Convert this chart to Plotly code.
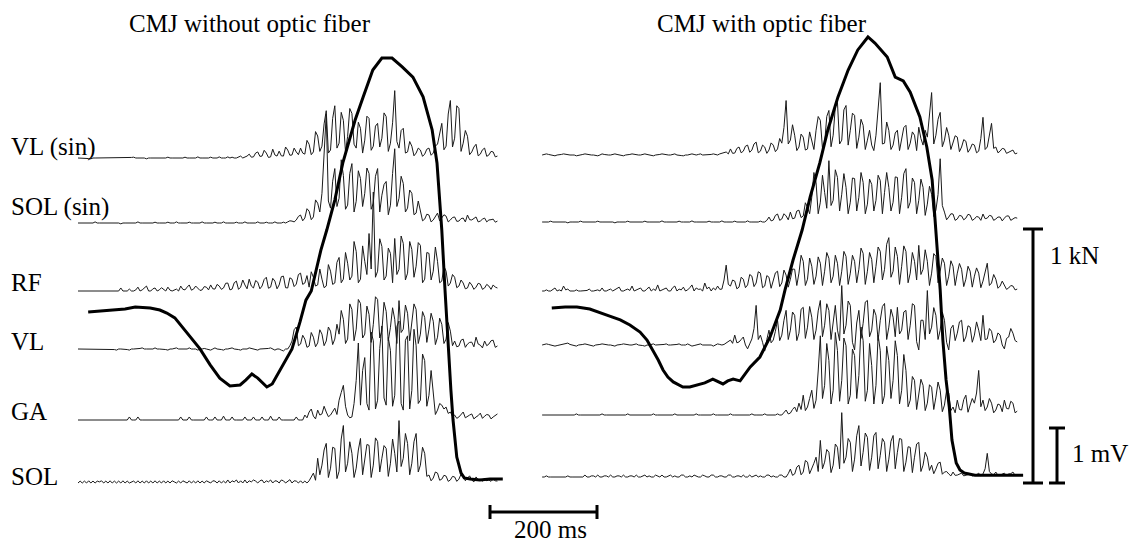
import plotly.graph_objects as go

# ---------------- calibration (from the scale bars of the figure) ----------------
W, H = 1131, 543
PX_PER_MS = 107 / 200.0     # 200 ms scale bar
PX_PER_MV = 55.0            # 1 mV scale bar
PX_PER_KN = 254.0           # 1 kN scale bar
DT_MS = 4                   # EMG sample interval

# ---------------- data ----------------
channels = ["VL (sin)", "SOL (sin)", "RF", "VL", "GA", "SOL"]

# Force (kN) - CMJ without optic fiber
left_force_t = [19, 41, 69, 88, 107, 135, 153, 166, 181, 200, 219, 228, 247, 265, 284, 303, 314, 325, 336, 346,
                353, 363, 378, 389, 400, 415, 426, 436, 454, 465, 480, 495, 508, 518, 533, 551, 568, 587, 606, 626,
                645, 662, 671, 680, 686, 692, 697, 701, 708, 716, 722, 733, 751, 770, 794]
left_force_kn = [0.673, 0.677, 0.681, 0.685, 0.693, 0.689, 0.681, 0.669, 0.650, 0.602, 0.551, 0.528, 0.465, 0.413,
                 0.382, 0.386, 0.406, 0.429, 0.413, 0.390, 0.378, 0.390, 0.445, 0.484, 0.528, 0.634, 0.720, 0.756,
                 0.917, 0.996, 1.114, 1.260, 1.358, 1.429, 1.520, 1.626, 1.673, 1.673, 1.638, 1.598, 1.520, 1.390,
                 1.260, 0.996, 0.760, 0.528, 0.366, 0.248, 0.102, 0.039, 0.020, 0.016, 0.012, 0.016, 0.016]

# Force (kN) - CMJ with optic fiber
right_force_t = [22, 47, 69, 93, 125, 150, 168, 187, 200, 211, 221, 230, 239, 249, 267, 280, 294, 308, 323, 333,
                 342, 351, 361, 374, 383, 393, 411, 430, 449, 458, 473, 490, 505, 523, 538, 557, 576, 594, 613, 626,
                 649, 664, 679, 692, 710, 723, 733, 740, 748, 753, 759, 765, 770, 778, 785, 793, 813, 860, 903]
right_force_kn = [0.689, 0.693, 0.693, 0.685, 0.661, 0.642, 0.622, 0.594, 0.563, 0.524, 0.484, 0.445, 0.417, 0.398,
                  0.378, 0.378, 0.386, 0.394, 0.409, 0.398, 0.390, 0.402, 0.409, 0.402, 0.429, 0.457, 0.496, 0.575,
                  0.681, 0.760, 0.878, 0.996, 1.126, 1.260, 1.390, 1.520, 1.626, 1.705, 1.756, 1.732, 1.677, 1.598,
                  1.583, 1.539, 1.441, 1.323, 1.193, 0.996, 0.760, 0.563, 0.406, 0.299, 0.169, 0.079, 0.051, 0.039,
                  0.031, 0.031, 0.031]

# EMG (microvolts), CMJ without optic fiber, every DT_MS from 0 ms
left_vl_sin = [0, 0, 0, 0, 0, -10, -15, 0, 0, 0, 0, 0, 0, 0, 0, 0, 0, 0, 0, 0,
               0, 0, 0, 0, 0, 10, 15, 0, 0, 0, 0, 0, -15, 0, 0, 0, 0, 0, 0, 0,
               0, 0, 15, 0, 0, 0, 0, 0, 0, 0, 15, 0, 0, 0, 0, 0, 20, 0, 0, 0,
               0, 0, 15, 0, 0, 0, 20, 0, 0, 0, 20, 0, 15, 0, 0, 15, 35, 0, 15, 35,
               70, 15, 20, 90, 110, 30, 35, 140, 90, 10, 20, 160, 55, 35, 125, 40, 35, 200, 145, 50,
               55, 180, 110, 60, 180, 90,
               70, 320, 250, 60, 110, 480, 400, 120, 215, 620,
               860, 90, 145, 720, 950, 180, 270, 830, 685, 110, 395, 900, 810, 250, 180, 650, 540, 90,
               325, 760, 720, 140, 215, 580, 630, 200, 360, 820, 755, 120, 270, 640, 1225, 300, 180, 500,
               540, 90, 110, 300, 215, 40, 90, 180, 145, 30, 70, 160, 180, 50, 90, 220, 250, 420,
               630, 150, 215, 800, 1045, 200, 360, 950, 900, 120, 270, 500,
               395, 60, 110, 200, 250, 40, 70, 150, 180, 30, 55, 120, 110, 20, 35]
left_sol_sin = [0, 0, 0, 0, 0, 0, 0, 0, 20, 0, 0, 0, 0, 0, 0, 0, 0, 0, 0, 0,
                -15, 0, 0, 0, 0, 0, 0, 0, 20, 0, 0, 0, 0, 0, 0, 0, 15, 0, 0, 0,
                0, 0, 15, 0, 0, 0, 20, 0, 0, 0, 0, 0, 15, 0, 0, 0, 0, 0, 20, 0,
                0, 0, 0, 0, 15, 0, 0, 0, 20, 0, 0, 0, 0, 0, 15, 0, 0, 0, 20, 0,
                0, 0, 0, 0, 20, 0, 0, 0, 15, 0, 0, 0, 20, 0, 0, 0, 15, 0, 20, 40,
                35, 20,
                55, 120, 145, 40, 90, 260, 215, 60, 110, 420, 360, 200,
                540, 1200, 1980, 400, 270, 760, 990, 300, 450, 1150, 865, 250, 325, 900, 1080, 200, 395, 950,
                810, 300, 540, 1000, 900, 250, 360, 850, 990, 200, 505, 700, 755, 150, 325, 900, 1350, 300,
                450, 850, 720, 200, 270, 600, 540, 150, 180, 400,
                215, 40, 70, 160, 145, 20, 55, 110, 180, 40, 90, 150, 125, 20, 55, 100, 110, 30, 35, 80,
                90, 20, 145, 60, 55, 90, 110, 20, 35, 70, 90, 20, 55, 60, 70, 15, 35]
left_rf = [0, 0, 0, 0, 0, 0, 0, 0, 0, 0, 0, 0, 0, 0, 0, 0, 0, 0, 0, 0,
           55, 0, 0, 0, 35, 0, 0, 20, 70, 0, 20, 50, 90, 0, 0, 40, 55, 0, 20, 60,
           35, 0, 70, 15, 0, 20, 35, 0, 90, 30, 20, 70, 110, 15, 35, 90, 55, 10, 20, 80,
           70, 20, 110, 40, 35, 120, 90, 30, 55, 140,
           145, 20, 35, 150, 180, 30, 70, 200, 110, 40, 215, 90, 55, 190, 160, 40, 90, 210, 250, 50,
           70, 230, 180, 40, 110, 260, 270, 60, 55, 240, 215, 80, 125, 300, 325, 120,
           145, 280, 70, 350, 250, 90, 110, 400, 215, 60, 90, 480, 360, 120, 145, 520, 610, 150, 215, 700,
           505, 200,
           270, 900, 720, 150, 215, 820, 540, 300, 1045, 400, 1800, 250, 360, 950, 810, 200, 270, 780,
           685, 150, 955, 300, 395, 1000, 865, 200, 325, 900, 755, 250, 450, 880, 830, 150, 215, 700,
           685, 200, 360, 800, 540, 150,
           180, 450, 360, 90, 145, 300, 250, 60, 90, 200, 145, 40, 55, 160, 110, 30, 70, 140, 125, 30,
           55, 120, 90, 30, 110, 70, 55]
left_vl = [0, 0, 0, 0, 0, 0, 0, 0, 0, 0, 0, 0, 0, 0, 0, 0, 0, -10, -20, 0,
           0, 0, 0, -10, -20, 0, 0, 0, 0, 10, 20, 0, 0, 0, 0, 0, 20, 0, 0, 0,
           0, -10, -20, 0, 0, 10, 20, 0, 0, 0, 0, 0, 20, 0, 0, 0, -20, 0, 0, 10,
           0, -10, -20, 0, 20, 0, 0, -10, -20, 0, 0, 10, 20, 0, 0, -10, -20, 0, 0, 0,
           20, 10, 0, -10, -20, 0, 0, 0, 0, 10, 20, 0, -20, 0, 0, -20, -35, 0, 0, 60,
           145, 350, 400, 60, 90, 250, 180, 30, 55, 300, 215, 40, 110, 350, 270, 60, 145, 400, 325, 80,
           180, 450,
           270, 700, 540, 100, 180, 820, 720, 150, 360, 900, 830, 200, 270, 780, 630, 120, 450, 950,
           900, 200, 325, 850, 685, 150, 395, 750, 540, 100, 880, 300, 360, 800, 650, 150, 450, 820,
           720, 100, 270, 680, 575, 120, 360, 650, 505, 80, 215, 560, 450, 100, 180, 480, 325, 60,
           145, 40, 55, 160, 180, 30, 90, 120, 125, 40, 215, 90, 70, 20, 145, 60, 90, 150, 160, 30, 55]
left_ga = [0, 0, 0, 0, 0, 0, 0, 0, 0, 0, 0, 0, 0, 0, 0, 0, 0, 0, 0, 0,
           0, 0, 0, 0, 55, 0, 0, 0, 55, 0, 0, 0, 0, 0, 0, 0, 0, 0, 0, 0,
           0, 0, 0, 0, 0, 0, 0, 0, 55, 0, 0, 0, 55, 0, 0, 0, 0, 0, 0, 0,
           55, 0, 0, 0, 55, 0, 0, 0, 70, 0, 0, 0, 55, 0, 0, 0, 0, 0, 55, 0,
           0, 0, 55, 0, 0, 0, 55, 0, 0, 0, 70, 0, 0, 0, 55, 0, 0, 0, 0, 0,
           0, 0, 55, 0, 0, 0,
           90, 40, 145, 200, 70, 20, 180, 90, 110, 250, 145, 60, 90, 160, 215, 100, 360, 500,
           630, 250, 90, 40, 55, 300,
           720, 1400, 270, 900, 1135, 300, 180, 1600, 1440, 200, 360, 1300, 1710, 400, 270, 1500, 1260, 250,
           450, 1700, 1800, 300, 180, 1450, 1530, 200, 540, 1650, 1350, 300, 360, 1200, 1080, 250, 450, 900,
           450, 100, 180, 300, 270, 200, 235, 120, 145, 70,
           90, 30, 55, 110, 145, 40, 70, 90, 110, 20, 55, 80, 125, 30, 70, 100, 90, 20, 55, 80, 110]
left_sol = [0, 35, 0, 35, 0, 40, 0, 35, 0, 35, 20, 40, 0, 35, 0, 40, 0, 35, 0, 35,
            0, 40, 0, 35, 0, 20, 35, 0, 40, 0, 35, 0, 40, 0, 35, 0, 40, 0, 35, 0,
            40, 0, 35, 0, 40, 20, 0, 35, 0, 40, 20, 0, 40, 0, 35, 0, 40, 0, 35, 0,
            40, 20, 0, 40, 35, 0, 40, 0, 35, 0, 55, 0, 40, 20, 55, 0, 40, 0, 55, 0,
            40, 20, 55, 35, 0, 40, 55, 0, 40, 20, 55, 0, 40, 35, 0, 55, 40, 0, 35, 60,
            0, 40, 35, 0, 40, 0, 35, 0, 40, 100,
            180, 50, 450, 150, 325, 600, 720, 100, 270, 650, 630, 80, 215, 800, 1045, 200, 360, 750,
            540, 100, 270, 600, 810, 150, 395, 700, 685, 100, 325, 820, 755, 200, 450, 680, 630, 120,
            360, 800, 540, 200, 1135, 300, 450, 900, 720, 150, 360, 750, 900, 200, 325, 650, 540, 120,
            145, 40, 90, 200, 180, 50, 70, 140, 125, 30, 55, 120, 110, 30, 70, 160, 145, 40, 90, 130,
            55, 20, 110, 60, 70, 30, 90, 40, 55, 30, 70, 40, 35]

# EMG (microvolts), CMJ with optic fiber, every DT_MS from 4 ms
right_vl_sin = [0, 10, 20, 10, 0, -10, -15, 0, 0, 10, 20, 10, 0, 0, 0, 0, -15, -10, 0, 10,
                20, 10, 0, 0, 0, -10, -15, 0, 20, 10, 0, 0, 0, 10, 20, 10, 0, -10, -15, 0,
                0, 10, 20, 10, 0, 0, 0, 10, 20, 10, 0, -10, -15, 0, 0, 10, 20, 10, 0, 0,
                0, 10, 20, 0, 0, -10, -15, 0, 0, 10, 20, 10, 0, 10, 20, 0, 0, 0, 0, 10,
                20, 10, 0, 20, 35, 50,
                55, 20, 110, 30, 35, 120, 145, 40, 70, 160, 180, 50, 90, 200,
                235, 40, 70, 180, 145, 30, 90, 220, 180, 60, 110, 300, 215, 500, 990, 200, 270, 550, 360, 80,
                145, 380, 325, 90, 110, 420, 270, 100, 450, 700,
                630, 120, 215, 700, 810, 150, 360, 880, 955, 200, 270, 820, 900, 180, 450, 760, 720, 120,
                325, 650, 540, 100,
                270, 450, 180, 80, 360, 900, 1315, 200, 215, 600, 450, 100,
                180, 400, 450, 80, 270, 500, 540, 100, 215, 420, 360, 80, 505, 300, 180, 450, 325, 700,
                1135, 200, 360, 650, 775, 150, 270, 500,
                360, 100, 215, 350, 325, 60, 145, 280, 250, 50, 110, 200,
                180, 40, 70, 300, 685, 100, 145, 400, 575, 120,
                145, 40, 70, 120, 110, 30, 55, 80, 90, 20, 35]
right_sol_sin = [0, 0, 0, 0, 15, 0, 0, 0, 0, 0, 0, 0, -15, 0, 0, 0, 0, 0, 15, 0,
                 0, 0, 0, 0, 0, 0, 15, 0, 0, 0, 0, 0, 0, 0, -15, 0, 0, 0, 0, 0,
                 15, 0, 0, 0, 0, 0, 0, 0, 15, 0, 0, 0, 0, 0, 0, 0, 20, 0, 0, 0,
                 0, 0, 0, 0, 15, 0, 0, 0, 0, 0, 20, 0, 0, 0, 0, 0, 0, 0, 15, 0,
                 0, 0, 0, 0, 20, 0, 0, 0, 0, 0, 15, 0, 0, 0, 0, 0, 20, 0, 0, 0,
                 0, 0, 15, 0, 0, 30,
                 90, 20, 35, 120, 145, 30, 55, 150, 110, 40, 180, 60, 70, 200,
                 215, 80, 110, 350, 270, 150,
                 450, 900, 720, 150, 360, 850, 540, 250, 1115, 300, 395, 950, 810, 200, 505, 880, 630, 150,
                 360, 800, 790, 200, 450, 900, 720, 150, 325, 780, 685, 200, 395, 850, 755, 150, 540, 900,
                 630, 200, 360, 820, 810, 150, 450, 880, 970, 250, 360, 800, 720, 150, 395, 780, 630, 120,
                 325, 650, 505, 100, 215, 500, 1150, 300,
                 180, 40, 90, 150, 145, 30, 55, 120, 110, 40, 70, 140, 125, 30, 55, 100, 90, 30, 145, 60,
                 70, 120, 110, 30, 55, 90, 90, 20, 70, 110, 110, 30, 55, 80, 70]
right_rf = [0, 0, 20, 0, 0, 20, 55, 0, 20, 0, 90, 20, 35, 0, 0, 0, 20, 0, 0, 0,
            0, 10, 35, 0, 0, 10, 20, 0, 55, 0, 0, 20, 35, 0, 20, 40, 70, 0, 0, 20,
            35, 10, 90, 0, 20, 30, 55, 0, 0, 40, 70, 0, 35, 10, 110, 0, 20, 30, 55, 0,
            0, 60, 90, 0, 35, 20, 70, 0, 20, 60, 110, 0, 55, 30, 35, 0, 145, 40, 70, 0,
            55, 20, 90, 30, 35, 200,
            470, 120,
            90, 200, 180, 40, 70, 250, 215, 60, 110, 300, 270, 80, 145, 350, 325, 60, 90, 280, 250, 50,
            180, 330, 360, 80, 145, 380, 290, 70, 215, 400, 395, 100,
            325, 650, 540, 100, 215, 600, 450, 120, 270, 620, 505, 100, 360, 700, 595, 150, 270, 650, 505, 100,
            360, 720, 630, 120, 325, 650, 540, 150, 395, 780, 685, 120, 360, 700, 575, 150, 450, 800, 720, 200,
            395, 850, 970, 250, 360, 800, 630, 120, 450, 820, 720, 150, 325, 700, 540, 200, 830, 300, 395, 750,
            540, 100, 325, 680, 630, 150, 360, 600, 505, 100, 270, 550, 450, 100, 325, 500, 395, 80, 215, 450,
            360, 70, 270, 420, 325, 60, 180, 350, 505, 100, 145, 300, 215, 50, 90, 180, 110, 30, 55, 100,
            90, 20, 35]
right_vl = [0, 10, 20, 10, 0, -10, -20, -10, 0, 10, 20, 20, 35, 10, 0, -10, -20, 0, 0, 10,
            20, 10, 0, -10, -20, 0, 0, 10, 20, 10, 0, 0, 0, -10, -20, 0, 0, 10, 20, 10,
            0, 0, 0, 10, 20, 0, 0, -10, -20, 0, 0, 10, 20, 0, 0, 0, 0, 10, 20, 0,
            0, 0, 0, 10, 20, 0, 0, 0, 20, 0, -20, -10, 0, 10, 20, 0, 0, 0, 0, 0,
            -20, 0, 20, 10, 0, 10, 35, 60,
            90, 30, 180, 40, 55, 100, 145, 0, -70, 20, 110, 300,
            720, 100, 180, 50, -110, 100, 270, 40, 90, 250, 450, 80,
            180, 450, 630, 100, 270, 600, 540, 80, 215, 650, 685, 120, 325, 700, 505, 100, 270, 620, 810, 150,
            360, 750, 630, 100, 450, 720, 270, 80, 1080, 200, 360, 800, 720, 50, -90, 400, 630, 120, 395, 780,
            810, 150, 270, 650, 540, 80, 450, 700, 755, 100, 325, 650, 505, 150, 685, 200, 270, 600, 630, 100,
            360, 750, 720, 60, -90, 450, 450, 100, 990, 200, 325, 680, 540, 100, 270, 600, 450, 50, -90, 300,
            360, 80, 215, 420, 450, 60, 145, 350, 325, 50, 180, 420, 270, 80, 540, 100, 110, 300, 250, 40,
            90, 220, 180, 0, -70, 120, 145, 300, 215, 80, 55]
right_ga = [0, 0, 0, 0, 0, 0, 0, 0, 0, 0, 0, 0, 0, 0, 0, 0, 20, 0, 0, 0,
            0, 0, 0, 0, 0, 0, 0, 0, 20, 0, 0, 0, 0, 0, 0, 0, 0, 0, 0, 0,
            20, 0, 0, 0, 0, 0, 0, 0, 0, 0, 0, 0, 20, 0, 0, 0, 0, 0, 0, 0,
            0, 0, 20, 0, 0, 0, 0, 0, 0, 0, 0, 0, 20, 0, 0, 0, 0, 0, 0, 0,
            20, 0, 0, 0, 0, 0, 0, 0, 20, 0, 0, 0, 0, 0, 0, 0, 0, 0, 20, 0,
            0, 0, 0, 0, 20, 0, 0, 0, 0, 0, 20, 0, 0, 40,
            90, 20, 35, 100, 145, 60,
            215, 100, 360, 80, 145, 300, 450, 120, 270, 800,
            1440, 300,
            540, 1300, 990, 200, 450, 1500, 1170, 250, 630, 1400, 1260, 200, 360, 1200, 1080, 300, 720, 1600,
            1350, 250, 450, 1300, 900, 200, 540, 1450, 1170, 200, 360, 1250, 990, 300, 630, 1350, 1080, 200,
            450, 1100, 810, 150,
            270, 700, 630, 100, 360, 650, 540, 80, 215, 550, 505, 100, 325, 600, 450, 60, 180, 450, 395, 80,
            145, 40, 270, 100, 90, 280, 360, 50, 180, 300, 215, 400, 810, 150, 270, 80, 145, 300, 215, 40,
            90, 200, 180, 60, 270, 120, 110, 250, 215, 40, 70]
right_sol = [0, 0, 20, 0, 0, 0, 0, 0, 0, 0, 0, 0, 20, 0, 0, 0, 0, 0, 0, 0,
             35, 0, 0, 20, 20, 0, 35, 0, 0, 20, 20, 0, 35, 0, 0, 20, 20, 0, 35, 0,
             0, 20, 20, 0, 35, 0, 0, 20, 35, 0, 20, 0, 0, 35, 20, 0, 35, 0, 0, 20,
             35, 0, 20, 0, 0, 35, 35, 0, 0, 20, 0, 35, 20, 0, 0, 35, 20, 0, 0, 35,
             35, 0, 0, 20, 20, 0, 0, 35, 35, 0, 0, 20, 20, 0, 35, 0, 0, 35, 0, 20,
             35, 0, 20, 0, 0, 35, 35, 0, 20, 0, 0, 35, 35, 0, 0, 60,
             145, 30, 55, 180, 215, 40, 90, 300, 270, 60, 145, 250,
             360, 100, 665, 150, 270, 500, 450, 80, 215, 600, 540, 150, 1170, 250, 360, 700, 630, 100,
             325, 750, 935, 200, 450, 800, 720, 120, 360, 750, 810, 150, 395, 700, 630, 100, 325, 650,
             755, 150, 450, 700, 685, 100, 270, 550, 540, 80, 360, 600, 630, 100, 215, 450, 360, 120,
             215, 60, 145, 250, 270, 50, 90, 100, 55, 20, 90, 30, 35, 60, 70, 20, 35, 50, 55, 20,
             35, 40, 70, 20, 55, 150, 430, 100, 55, 40, 90, 30, 35, 60, 70, 30, 55, 60, 90, 30, 35]

left_emg = [left_vl_sin, left_sol_sin, left_rf, left_vl, left_ga, left_sol]
right_emg = [right_vl_sin, right_sol_sin, right_rf, right_vl, right_ga, right_sol]

# ---------------- layout constants (pixels in the 1131x543 page) ----------------
LEFT_ORIGIN_PX = 78
RIGHT_ORIGIN_PX = 540
RIGHT_EMG_START_MS = 4
left_base_px = [158, 223, 291, 349, 420, 483]
right_base_px = [155, 222, 291, 345, 415, 477]
label_y_px = [147, 207, 282, 341, 411, 476]
FORCE_ZERO_PX = 483

SCALE_KN, SCALE_MV, SCALE_MS = 1.0, 1.0, 200.0


def ms_at(px):
    return (px - LEFT_ORIGIN_PX) / PX_PER_MS


def mv_at(py):
    return (H - py) / PX_PER_MV


def kn_at(py):
    return (FORCE_ZERO_PX - py) / PX_PER_KN


RIGHT_OFFSET_MS = ms_at(RIGHT_ORIGIN_PX)
SERIF = "Liberation Serif, Times New Roman, serif"
FS = 25

fig = go.Figure()

emg_line = dict(color="#1a1a1a", width=1)
for k in range(len(channels)):
    b = mv_at(left_base_px[k])
    sig = left_emg[k]
    fig.add_trace(go.Scatter(x=[i * DT_MS for i in range(len(sig))],
                             y=[b + v / 1000.0 for v in sig],
                             mode="lines", line=emg_line, hoverinfo="skip"))
    b = mv_at(right_base_px[k])
    sig = right_emg[k]
    fig.add_trace(go.Scatter(x=[RIGHT_OFFSET_MS + RIGHT_EMG_START_MS + i * DT_MS for i in range(len(sig))],
                             y=[b + v / 1000.0 for v in sig],
                             mode="lines", line=emg_line, hoverinfo="skip"))

force_line = dict(color="black", width=3)
fig.add_trace(go.Scatter(x=left_force_t, y=left_force_kn, yaxis="y2", mode="lines",
                         line=force_line, hoverinfo="skip"))
fig.add_trace(go.Scatter(x=[RIGHT_OFFSET_MS + t for t in right_force_t], y=right_force_kn, yaxis="y2",
                         mode="lines", line=force_line, hoverinfo="skip"))

# ---------------- scale bars ----------------
bar = dict(color="black", width=3)
kn_x = ms_at(1033)
cap_kn = 10 / PX_PER_MS
fig.add_trace(go.Scatter(x=[kn_x, kn_x], y=[0, SCALE_KN], yaxis="y2", mode="lines", line=bar, hoverinfo="skip"))
for yv in (0, SCALE_KN):
    fig.add_trace(go.Scatter(x=[kn_x - cap_kn, kn_x + cap_kn], y=[yv, yv], yaxis="y2", mode="lines",
                             line=bar, hoverinfo="skip"))
mv_x = ms_at(1057)
mv0 = mv_at(483)
cap_mv = 8 / PX_PER_MS
fig.add_trace(go.Scatter(x=[mv_x, mv_x], y=[mv0, mv0 + SCALE_MV], mode="lines", line=bar, hoverinfo="skip"))
for yv in (mv0, mv0 + SCALE_MV):
    fig.add_trace(go.Scatter(x=[mv_x - cap_mv, mv_x + cap_mv], y=[yv, yv], mode="lines",
                             line=bar, hoverinfo="skip"))
ms_x0 = ms_at(490)
ms_y = mv_at(512)
cap_ms = 7 / PX_PER_MV
fig.add_trace(go.Scatter(x=[ms_x0, ms_x0 + SCALE_MS], y=[ms_y, ms_y], mode="lines", line=bar, hoverinfo="skip"))
for xv in (ms_x0, ms_x0 + SCALE_MS):
    fig.add_trace(go.Scatter(x=[xv, xv], y=[ms_y - cap_ms, ms_y + cap_ms], mode="lines",
                             line=bar, hoverinfo="skip"))

# ---------------- text ----------------
ann = []
font = dict(family=SERIF, size=FS, color="black")
ann.append(dict(x=ms_at(250), y=mv_at(23), text="CMJ without optic fiber", xanchor="center", yanchor="middle"))
ann.append(dict(x=ms_at(762), y=mv_at(23), text="CMJ with optic fiber", xanchor="center", yanchor="middle"))
for k, name in enumerate(channels):
    ann.append(dict(x=ms_at(9), y=mv_at(label_y_px[k]), text=name, xanchor="left", yanchor="middle"))
ann.append(dict(x=ms_at(1048), y=mv_at(255), text="1 kN", xanchor="left", yanchor="middle"))
ann.append(dict(x=ms_at(1070), y=mv_at(453), text="1 mV", xanchor="left", yanchor="middle"))
ann.append(dict(x=ms_at(550), y=mv_at(529), text="200 ms", xanchor="center", yanchor="middle", borderpad=0))
for a in ann:
    a.update(xref="x", yref="y", showarrow=False, font=font)

fig.update_layout(
    width=W, height=H,
    margin=dict(l=0, r=0, t=0, b=0),
    paper_bgcolor="white", plot_bgcolor="white",
    showlegend=False,
    annotations=ann,
    xaxis=dict(range=[ms_at(0), ms_at(W)], visible=False, fixedrange=True, domain=[0, 1]),
    yaxis=dict(range=[mv_at(H), mv_at(0)], visible=False, fixedrange=True, domain=[0, 1]),
    yaxis2=dict(range=[kn_at(H), kn_at(0)], visible=False, fixedrange=True, overlaying="y", domain=[0, 1]),
)

fig.write_html("out.html", config={"displayModeBar": False})
